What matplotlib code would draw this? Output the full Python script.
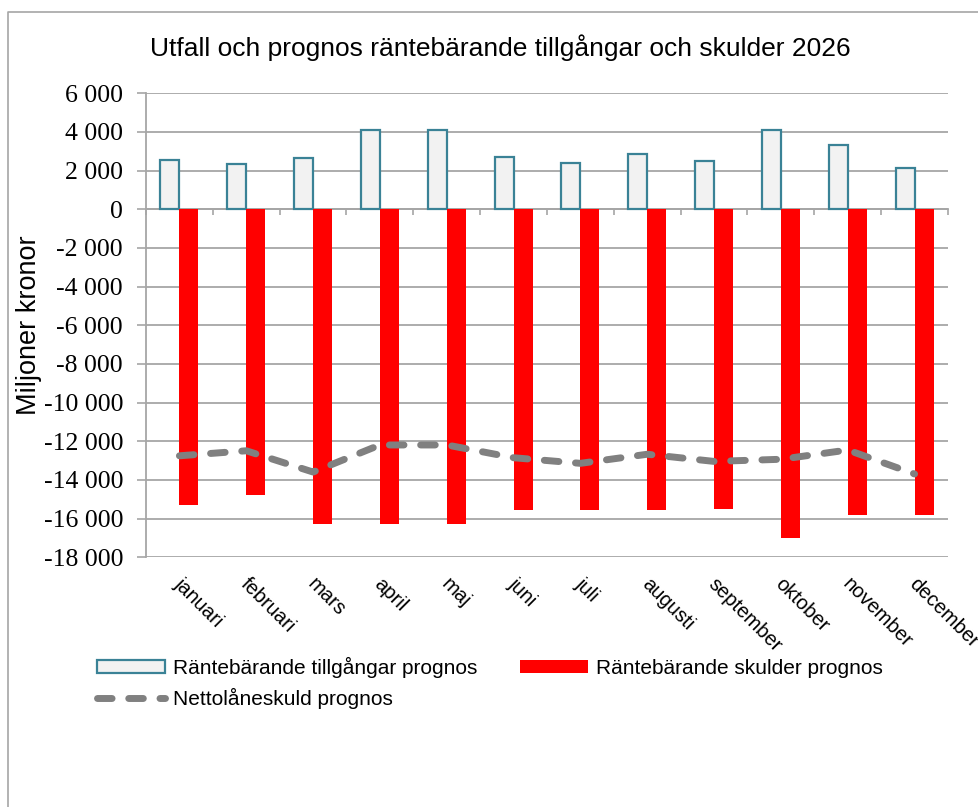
import matplotlib
matplotlib.use("Agg")
import matplotlib.pyplot as plt
from matplotlib.lines import Line2D
from matplotlib.patches import Patch
import matplotlib.transforms as mtransforms
import numpy as np

months = ["januari", "februari", "mars", "april", "maj", "juni", "juli",
          "augusti", "september", "oktober", "november", "december"]
assets = [2550, 2360, 2650, 4100, 4080, 2680, 2380, 2880, 2480, 4090, 3340, 2120]
liabilities = [-15280, -14760, -16300, -16300, -16260, -15550, -15540, -15540,
               -15500, -17020, -15810, -15830]
net = [-12750, -12490, -13590, -12190, -12190, -12850, -13140, -12670,
       -13040, -12930, -12450, -13690]
yticks = list(range(-18000, 6001, 2000))

W, H = 979, 807
fig = plt.figure(figsize=(W / 100, H / 100), dpi=100)
ax = fig.add_axes([146 / W, 1 - 557.3 / H, (948 - 146) / W, (557.3 - 93.3) / H])

x = np.arange(len(months))
bw = 0.285
LW_NET = 5.0
DASH = (2.1, 2.4)
ax.bar(x - bw / 2, assets, width=bw, color="#f2f2f2", edgecolor="#3a8296",
       linewidth=1.6, zorder=3)
ax.bar(x + bw / 2, liabilities, width=bw, color="#ff0000", edgecolor="none",
       zorder=3)
ax.plot(x, net, color="#808080", linewidth=LW_NET, dashes=DASH,
        dash_capstyle="round", solid_capstyle="round", zorder=4)

ax.set_xlim(-0.5, len(months) - 0.5)
ax.set_ylim(-18000, 6000)
ax.set_yticks(yticks)
ax.set_yticklabels([("-" if v < 0 else "") + f"{abs(v):,}".replace(",", " ") for v in yticks])
ax.yaxis.grid(True, color="#a6a6a6", linewidth=1.3, zorder=0)
ax.tick_params(axis="y", length=6.5, color="#a6a6a6", width=1.2, pad=10,
               labelsize=18.5, labelfontfamily="Liberation Serif")

for s in ["top", "right"]:
    ax.spines[s].set_visible(False)
ax.spines["left"].set_color("#a6a6a6")
ax.spines["left"].set_linewidth(1.3)
ax.spines["bottom"].set_position(("data", 0))
ax.spines["bottom"].set_color("#a6a6a6")
ax.spines["bottom"].set_linewidth(1.3)
ax.set_xticks(np.arange(-0.5, len(months), 1.0))
ax.set_xticklabels([])
ax.tick_params(axis="x", length=4.5, color="#a6a6a6", width=1.2, direction="out")

trans = mtransforms.blended_transform_factory(ax.transData, fig.transFigure)
for i, m in enumerate(months):
    ax.text(i - 0.04, 1 - 581 / H, m, transform=trans, rotation=-45,
            rotation_mode="anchor", ha="left", va="center",
            fontfamily="Liberation Sans", fontsize=14.5, clip_on=False)

fig.text(29 / W, 1 - 325 / H, "Miljoner kronor", rotation=90, ha="center",
         va="center", fontfamily="Liberation Sans", fontsize=19.5)

fig.text(500 / W, 1 - 48 / H, "Utfall och prognos räntebärande tillgångar och skulder 2026",
         ha="center", va="center", fontfamily="Liberation Sans", fontsize=19)

handles = [Patch(facecolor="#f2f2f2", edgecolor="#3a8296", linewidth=1.6),
           Line2D([], [], color="#808080", linewidth=LW_NET, dashes=DASH,
                  dash_capstyle="round"),
           Patch(facecolor="#ff0000", edgecolor="none")]
labels = ["Räntebärande tillgångar prognos", "Nettolåneskuld prognos",
          "Räntebärande skulder prognos"]
fig.legend(handles, labels, ncol=2, loc="upper left",
           bbox_to_anchor=(78 / W, 1 - 638 / H), frameon=False,
           prop={"family": "Liberation Sans", "size": 15},
           handlelength=3.27, handleheight=0.6, handletextpad=0.38,
           columnspacing=2.05, labelspacing=0.5)

fig.add_artist(Line2D([8 / W, 8 / W, 1.0], [0.0, 1 - 12 / H, 1 - 12 / H],
                      transform=fig.transFigure, color="#a6a6a6", linewidth=1.2))

fig.savefig("out.png", dpi=100)
